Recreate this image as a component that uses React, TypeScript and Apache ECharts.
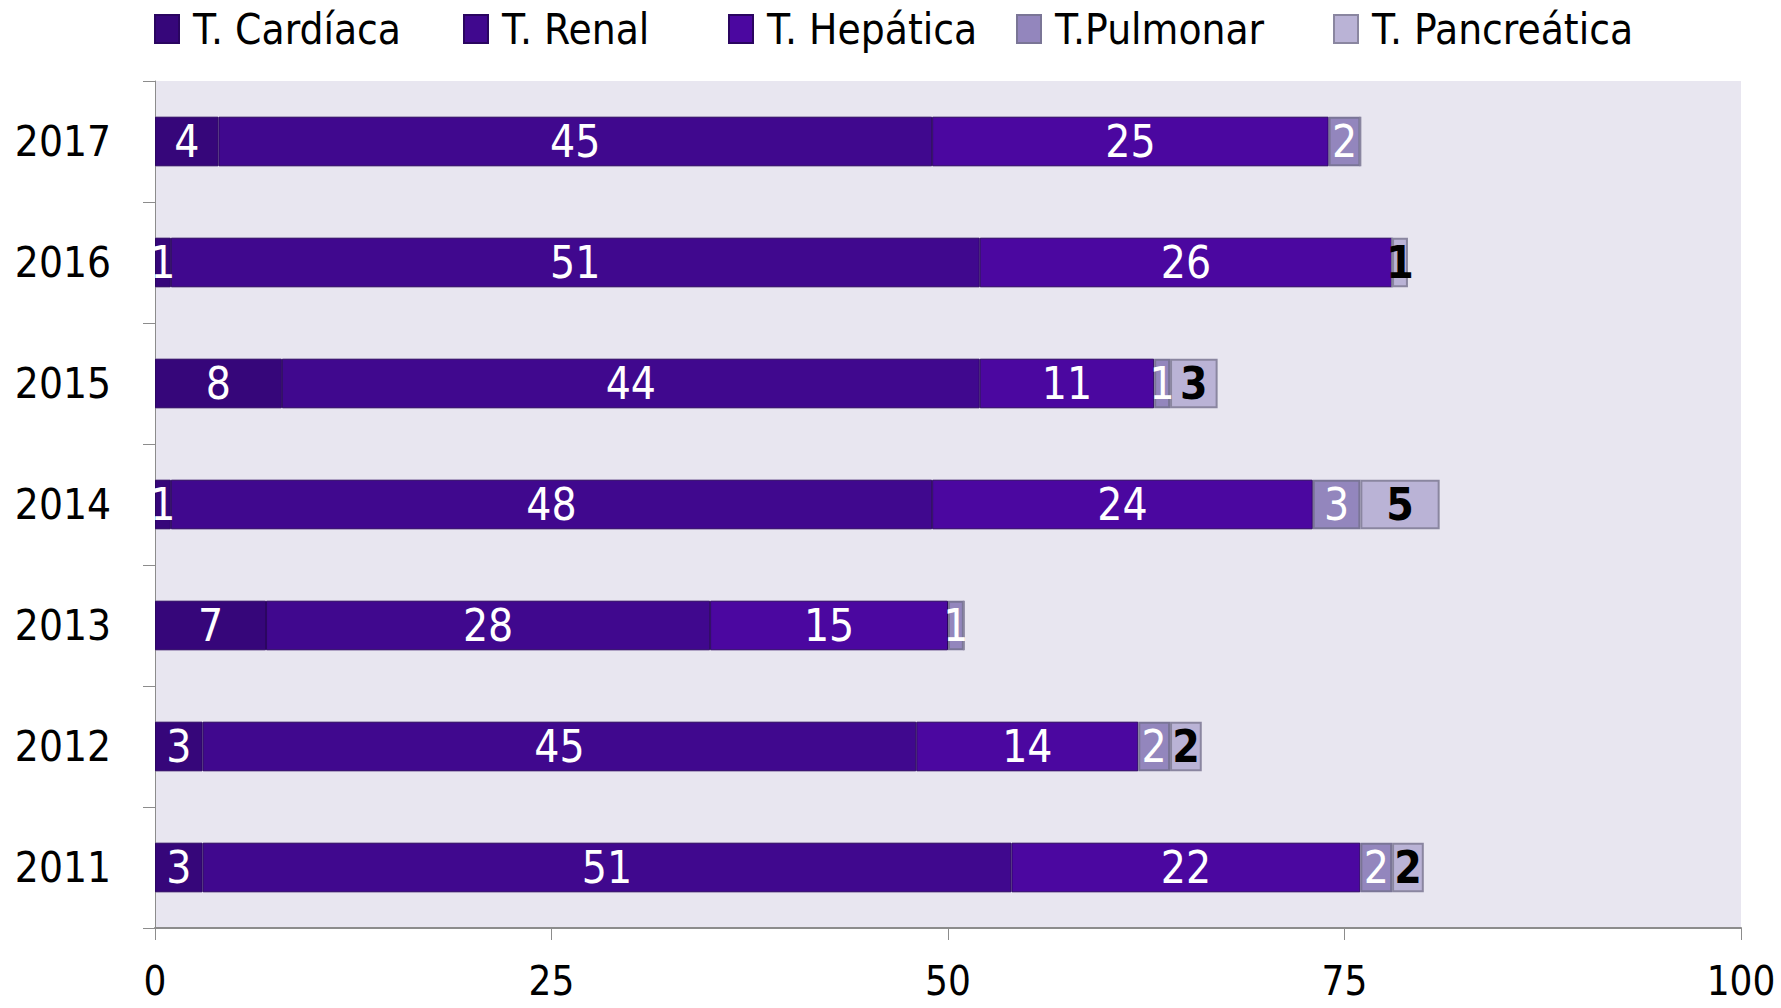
import React, { useEffect, useRef } from "react";
import * as echarts from "echarts";

const years = ["2011", "2012", "2013", "2014", "2015", "2016", "2017"];
const cardiaca = [3, 3, 7, 1, 8, 1, 4];
const renal = [51, 45, 28, 48, 44, 51, 45];
const hepatica = [22, 14, 15, 24, 11, 26, 25];
const pulmonar = [2, 2, 1, 3, 1, 0, 2];
const pancreatica = [2, 2, 0, 5, 3, 1, 0];
const xTicks = [0, 25, 50, 75, 100];
const legendNames = ["T. Cardíaca", "T. Renal", "T. Hepática", "T.Pulmonar", "T. Pancreática"];
const legendLefts = [154, 463, 728, 1016, 1333];

const FONT = "'Liberation Sans Narrow', 'DejaVu Sans Condensed', 'Open Sans', sans-serif";

export default function App() {
  const ref = useRef<HTMLDivElement>(null);
  useEffect(() => {
    document.body.style.margin = "0";
    const chart = echarts.init(ref.current!, null, { renderer: "svg" });
    const mk = (name: string, data: number[], color: string, border: string, bw: number, labelColor: string, bold: boolean) => ({
      name,
      type: "bar",
      stack: "total",
      data,
      barWidth: "41%",
      itemStyle: { color, borderColor: border, borderWidth: bw },
      label: {
        show: true,
        position: "inside",
        color: labelColor,
        fontFamily: FONT,
        fontSize: 44,
        fontWeight: bold ? "bold" : "normal",
        formatter: (p: any) => (p.value ? String(p.value) : ""),
      },
    });
    chart.setOption({
      animation: false,
      backgroundColor: "#ffffff",
      textStyle: { fontFamily: FONT },
      legend: legendNames.map((n, i) => ({
        top: 8,
        left: legendLefts[i],
        padding: 0,
        itemWidth: 24,
        itemHeight: 28,
        icon: "rect",
        textStyle: { fontSize: 42, color: "#000", fontFamily: FONT, padding: [0, 0, 0, 9] },
        data: [n],
      })),
      grid: {
        left: 155,
        right: 40,
        top: 81,
        bottom: 80,
        show: true,
        backgroundColor: "#e8e6f0",
        borderWidth: 0,
      },
      xAxis: {
        type: "value",
        min: 0,
        max: 100,
        interval: 25,
        splitLine: { show: false },
        axisLine: { show: true, lineStyle: { color: "#8c8c8c", width: 2 } },
        axisTick: { show: true, length: 12, lineStyle: { color: "#8c8c8c" } },
        axisLabel: {
          margin: 36,
          fontSize: 40,
          lineHeight: 34,
          color: "#000",
          fontFamily: FONT,
          formatter: (v: number) => (xTicks.includes(v) ? String(v) : ""),
        },
      },
      yAxis: {
        type: "category",
        data: years,
        axisLine: { show: true, lineStyle: { color: "#8c8c8c", width: 1 } },
        axisTick: { show: true, length: 12, lineStyle: { color: "#8c8c8c" } },
        axisLabel: { margin: 44, fontSize: 42, color: "#000", fontFamily: FONT },
      },
      series: [
        mk("T. Cardíaca", cardiaca, "#36067a", "#2a0560", 1, "#ffffff", false),
        mk("T. Renal", renal, "#40088e", "#2a0560", 1, "#ffffff", false),
        mk("T. Hepática", hepatica, "#4b07a0", "#2a0560", 1, "#ffffff", false),
        mk("T.Pulmonar", pulmonar, "#9386bd", "#7a7596", 2, "#ffffff", false),
        mk("T. Pancreática", pancreatica, "#bab3d6", "#8a86a0", 2, "#000000", true),
      ],
    });
    return () => chart.dispose();
  }, []);
  return <div ref={ref} style={{ position: "fixed", left: 0, top: 0, width: 1781, height: 1008 }} />;
}
